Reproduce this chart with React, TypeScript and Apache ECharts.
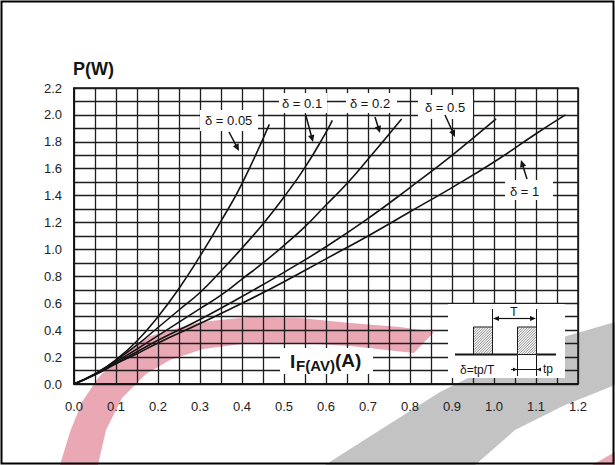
import React, { useEffect, useRef } from 'react';
import * as echarts from 'echarts';

// ---- data ----
const current005 = [0, 0.05, 0.1, 0.15, 0.2, 0.25, 0.3, 0.35, 0.4, 0.465];
const power005 = [0, 0.075, 0.18, 0.32, 0.5, 0.71, 0.95, 1.21, 1.49, 1.93];

const current01 = [0, 0.05, 0.1, 0.15, 0.2, 0.25, 0.3, 0.35, 0.4, 0.45, 0.5, 0.55, 0.6, 0.615];
const power01 = [0, 0.074, 0.175, 0.29, 0.42, 0.55, 0.68, 0.84, 1.01, 1.19, 1.39, 1.61, 1.87, 1.96];

const current02 = [0, 0.05, 0.1, 0.15, 0.2, 0.25, 0.3, 0.35, 0.4, 0.45, 0.5, 0.55, 0.6, 0.65, 0.7, 0.78];
const power02 = [0, 0.072, 0.165, 0.26, 0.36, 0.46, 0.56, 0.66, 0.78, 0.9, 1.03, 1.17, 1.33, 1.49, 1.67, 1.97];

const current05 = [0, 0.05, 0.1, 0.15, 0.2, 0.3, 0.4, 0.5, 0.6, 0.7, 0.8, 0.9, 1.005];
const power05 = [0, 0.07, 0.155, 0.24, 0.325, 0.48, 0.65, 0.83, 1.02, 1.23, 1.46, 1.7, 1.97];

const current1 = [0, 0.05, 0.1, 0.15, 0.2, 0.3, 0.4, 0.5, 0.6, 0.7, 0.8, 0.9, 1.0, 1.1, 1.17];
const power1 = [0, 0.068, 0.15, 0.225, 0.305, 0.45, 0.6, 0.76, 0.93, 1.1, 1.28, 1.46, 1.65, 1.86, 2.0];

const dutyLabels = ['δ = 0.05', 'δ = 0.1', 'δ = 0.2', 'δ = 0.5', 'δ = 1'];
const yAxisTitle = 'P(W)';
const xAxisTitleParts = ['I', 'F(AV)', '(A)'];
const insetTexts = ['T', 'δ=tp/T', 'tp'];

const FONT = '"Liberation Sans", Arial, Helvetica, sans-serif';
const INK = '#141414';

function pairs(xs: number[], ys: number[]) {
  return xs.map((x, i) => [x, ys[i]]);
}

function arrow(x1: number, y1: number, x2: number, y2: number, head = 7, half = 3.2, lw = 1.5) {
  const dx = x2 - x1, dy = y2 - y1;
  const len = Math.hypot(dx, dy);
  const ux = dx / len, uy = dy / len;
  const bx = x2 - ux * head, by = y2 - uy * head;
  const px = -uy, py = ux;
  return [
    { type: 'line', z: 30, shape: { x1, y1, x2: bx + ux, y2: by + uy }, style: { stroke: INK, lineWidth: lw } },
    {
      type: 'polygon', z: 30,
      shape: { points: [[x2, y2], [bx + px * half, by + py * half], [bx - px * half, by - py * half]] },
      style: { fill: INK },
    },
  ];
}

function box(x: number, y: number, w: number, h: number) {
  return { type: 'rect', z: 20, shape: { x, y, width: w, height: h }, style: { fill: '#fff' } };
}

function text(x: number, y: number, t: string, font: string, align = 'left') {
  return {
    type: 'text', z: 31, x, y,
    style: { text: t, font, fill: INK, align, textAlign: align, verticalAlign: 'middle', textVerticalAlign: 'middle' },
  };
}

function hatch(x0: number, y0: number, w: number, h: number, step: number) {
  const out: any[] = [];
  const x1 = x0 + w, y1 = y0 + h;
  for (let c = x0 + y0 + step; c < x1 + y1; c += step) {
    const xa = Math.max(x0, c - y1);
    const xb = Math.min(x1, c - y0);
    if (xb <= xa) continue;
    out.push({
      type: 'line', z: 31,
      shape: { x1: xa, y1: c - xa, x2: xb, y2: c - xb },
      style: { stroke: '#555', lineWidth: 0.7 },
    });
  }
  return out;
}

export default function App() {
  const ref = useRef<HTMLDivElement>(null);

  useEffect(() => {
    if (!ref.current) return;
    const chart = echarts.init(ref.current, undefined, { renderer: 'svg' });

    const isTenth = (v: number) => Math.abs(v * 10 - Math.round(v * 10)) < 1e-6;
    const isFifth = (v: number) => Math.abs(v * 5 - Math.round(v * 5)) < 1e-6;

    const seriesData = [
      pairs(current005, power005),
      pairs(current01, power01),
      pairs(current02, power02),
      pairs(current05, power05),
      pairs(current1, power1),
    ];

    const graphic: any[] = [
      // watermark
      {
        type: 'polygon', z: -5, silent: true,
        shape: {
          points: [[60, 465], [70, 432], [82, 402], [98, 378], [117, 358], [150, 336], [200, 322], [250, 317],
            [300, 318], [350, 323], [400, 327], [434, 332], [414, 353], [350, 346], [300, 343], [250, 343],
            [203, 349], [170, 360], [146, 374], [122, 398], [106, 430], [98, 465]],
        },
        style: { fill: '#eaa7b4' },
      },
      {
        type: 'polygon', z: -5, silent: true,
        shape: { points: [[592, 465], [615, 452], [615, 465]] },
        style: { fill: '#eaa7b4' },
      },
      {
        type: 'polygon', z: -5, silent: true,
        shape: {
          points: [[325, 465], [380, 430], [440, 392], [500, 362], [560, 338], [615, 322], [615, 385],
            [565, 405], [515, 430], [475, 465]],
        },
        style: { fill: '#c3c3c3' },
      },
      // outer frame
      { type: 'rect', z: 40, shape: { x: 1.5, y: 1.5, width: 612, height: 462 }, style: { fill: 'none', stroke: '#000', lineWidth: 2 } },
      // y axis title
      text(73, 69, yAxisTitle, `bold 18px ${FONT}`),
      // label boxes
      box(200, 110, 58, 21), text(205, 120, dutyLabels[0], `13px ${FONT}`),
      box(279, 93, 48, 20), text(282, 103, dutyLabels[1], `13px ${FONT}`),
      box(346, 93, 51, 20), text(350, 103, dutyLabels[2], `13px ${FONT}`),
      box(418, 95, 55, 24), text(425, 107, dutyLabels[3], `13px ${FONT}`),
      box(505, 180, 48, 20), text(510, 191, dutyLabels[4], `13px ${FONT}`),
      ...arrow(229, 132, 239, 151),
      ...arrow(306, 116, 313, 142),
      ...arrow(375, 117, 380, 133),
      ...arrow(445, 115, 455, 137),
      ...arrow(527, 179, 521, 160),
      // x axis title
      box(280, 348, 93, 26),
      text(290, 361, xAxisTitleParts[0], `bold 19px ${FONT}`),
      text(296, 365, xAxisTitleParts[1], `bold 15px ${FONT}`),
      text(335, 360, xAxisTitleParts[2], `bold 19px ${FONT}`),
      // inset
      box(448, 304, 117, 74),
      { type: 'polyline', z: 31, shape: { points: [[455, 354.5], [517, 354.5]] }, style: { stroke: INK, lineWidth: 2 } },
      { type: 'polyline', z: 31, shape: { points: [[537, 354.5], [556, 354.5]] }, style: { stroke: INK, lineWidth: 2 } },
      { type: 'rect', z: 30, shape: { x: 473.5, y: 327, width: 19, height: 27.5 }, style: { fill: '#fff', stroke: INK, lineWidth: 1 } },
      { type: 'rect', z: 30, shape: { x: 517.5, y: 327, width: 19, height: 27.5 }, style: { fill: '#fff', stroke: INK, lineWidth: 1 } },
      ...hatch(473.5, 327, 19, 27.5, 2.6),
      ...hatch(517.5, 327, 19, 27.5, 2.6),
      { type: 'line', z: 31, shape: { x1: 492.5, y1: 309, x2: 492.5, y2: 327 }, style: { stroke: INK, lineWidth: 1 } },
      { type: 'line', z: 31, shape: { x1: 536.5, y1: 309, x2: 536.5, y2: 327 }, style: { stroke: INK, lineWidth: 1 } },
      ...arrow(514, 318.5, 493, 318.5, 6, 2.6, 1.2),
      ...arrow(514, 318.5, 536, 318.5, 6, 2.6, 1.2),
      text(514, 312, insetTexts[0], `12px ${FONT}`, 'center'),
      { type: 'line', z: 31, shape: { x1: 517.5, y1: 355, x2: 517.5, y2: 376 }, style: { stroke: INK, lineWidth: 1 } },
      { type: 'line', z: 31, shape: { x1: 536.5, y1: 355, x2: 536.5, y2: 376 }, style: { stroke: INK, lineWidth: 1 } },
      { type: 'line', z: 31, shape: { x1: 512, y1: 369.5, x2: 541, y2: 369.5 }, style: { stroke: INK, lineWidth: 1 } },
      ...arrow(511, 369.5, 517, 369.5, 4, 2, 1),
      ...arrow(541, 369.5, 537, 369.5, 4, 2, 1),
      text(460, 370, insetTexts[1], `12px ${FONT}`),
      text(543, 369, insetTexts[2], `12px ${FONT}`),
    ];

    chart.setOption({
      animation: false,
      backgroundColor: '#ffffff',
      grid: {
        left: 74, top: 88, width: 504, height: 296,
        show: true, borderColor: '#111', borderWidth: 1.5, backgroundColor: 'transparent',
      },
      xAxis: {
        type: 'value', min: 0, max: 1.2, interval: 0.05,
        axisLine: { show: true, lineStyle: { color: '#111', width: 1.5 } },
        axisTick: { show: false },
        axisLabel: {
          margin: 16, color: '#222', fontSize: 13, fontFamily: FONT,
          formatter: (v: number) => (isTenth(v) ? v.toFixed(1) : ''),
        },
        splitLine: { show: true, lineStyle: { color: '#1e1e1e', width: 1.3 } },
      },
      yAxis: {
        type: 'value', min: 0, max: 2.2, interval: 0.1,
        axisLine: { show: true, lineStyle: { color: '#111', width: 1.5 } },
        axisTick: { show: false },
        axisLabel: {
          margin: 12, color: '#222', fontSize: 13, fontFamily: FONT,
          formatter: (v: number) => (isFifth(v) ? v.toFixed(1) : ''),
        },
        splitLine: { show: true, lineStyle: { color: '#1e1e1e', width: 1.3 } },
      },
      series: seriesData.map((d, i) => ({
        name: dutyLabels[i],
        type: 'line',
        data: d,
        smooth: true,
        showSymbol: false,
        z: 5,
        lineStyle: { color: INK, width: 1.6 },
      })),
      graphic,
    });

    return () => chart.dispose();
  }, []);

  return (
    <div
      ref={ref}
      style={{ position: 'absolute', left: 0, top: 0, width: 615, height: 465, background: '#fff' }}
    />
  );
}
